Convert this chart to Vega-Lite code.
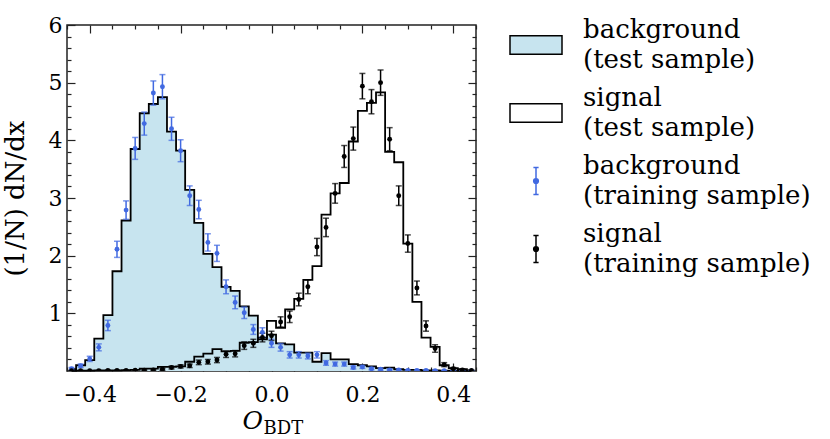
{
  "$schema": "https://vega.github.io/schema/vega-lite/v6.json",
  "width": 409,
  "height": 346,
  "autosize": {"type": "none"},
  "padding": {"left": 67, "top": 25, "right": 354, "bottom": 68},
  "config": {
    "font": "DejaVu Serif",
    "view": {"stroke": "#222", "strokeWidth": 1.5},
    "axis": {"grid": false, "domain": false, "tickColor": "#222", "tickWidth": 1.2, "labelColor": "black", "titleColor": "black", "labelFont": "DejaVu Serif", "titleFont": "DejaVu Serif", "titleFontWeight": "normal"}
  },
  "datasets": {
    "hist": [
      {"x": -0.44, "v": 0.03, "s": "bkg_test"}, {"x": -0.42, "v": 0.10, "s": "bkg_test"}, {"x": -0.40, "v": 0.19, "s": "bkg_test"}, {"x": -0.38, "v": 0.56, "s": "bkg_test"}, {"x": -0.36, "v": 0.97, "s": "bkg_test"},
      {"x": -0.34, "v": 1.73, "s": "bkg_test"}, {"x": -0.32, "v": 2.61, "s": "bkg_test"}, {"x": -0.30, "v": 3.85, "s": "bkg_test"}, {"x": -0.28, "v": 4.47, "s": "bkg_test"}, {"x": -0.26, "v": 4.63, "s": "bkg_test"},
      {"x": -0.24, "v": 4.75, "s": "bkg_test"}, {"x": -0.22, "v": 4.15, "s": "bkg_test"}, {"x": -0.20, "v": 3.82, "s": "bkg_test"}, {"x": -0.18, "v": 3.14, "s": "bkg_test"}, {"x": -0.16, "v": 2.57, "s": "bkg_test"},
      {"x": -0.14, "v": 2.03, "s": "bkg_test"}, {"x": -0.12, "v": 1.80, "s": "bkg_test"}, {"x": -0.10, "v": 1.46, "s": "bkg_test"}, {"x": -0.08, "v": 1.39, "s": "bkg_test"}, {"x": -0.06, "v": 1.12, "s": "bkg_test"},
      {"x": -0.04, "v": 0.96, "s": "bkg_test"}, {"x": -0.02, "v": 0.55, "s": "bkg_test"}, {"x": 0.00, "v": 0.63, "s": "bkg_test"}, {"x": 0.02, "v": 0.48, "s": "bkg_test"}, {"x": 0.04, "v": 0.46, "s": "bkg_test"},
      {"x": 0.06, "v": 0.32, "s": "bkg_test"}, {"x": 0.08, "v": 0.32, "s": "bkg_test"}, {"x": 0.10, "v": 0.16, "s": "bkg_test"}, {"x": 0.12, "v": 0.31, "s": "bkg_test"}, {"x": 0.14, "v": 0.20, "s": "bkg_test"},
      {"x": 0.16, "v": 0.20, "s": "bkg_test"}, {"x": 0.18, "v": 0.12, "s": "bkg_test"}, {"x": 0.20, "v": 0.10, "s": "bkg_test"}, {"x": 0.22, "v": 0.08, "s": "bkg_test"}, {"x": 0.24, "v": 0.05, "s": "bkg_test"},
      {"x": 0.26, "v": 0.06, "s": "bkg_test"}, {"x": 0.28, "v": 0.03, "s": "bkg_test"}, {"x": 0.30, "v": 0.02, "s": "bkg_test"}, {"x": 0.32, "v": 0.02, "s": "bkg_test"}, {"x": 0.34, "v": 0.01, "s": "bkg_test"},
      {"x": 0.36, "v": 0.01, "s": "bkg_test"}, {"x": 0.38, "v": 0.005, "s": "bkg_test"}, {"x": 0.40, "v": 0.005, "s": "bkg_test"}, {"x": 0.42, "v": 0.002, "s": "bkg_test"}, {"x": 0.44, "v": 0.001, "s": "bkg_test"},
      {"x": -0.44, "v": 0.003, "s": "sig_test"}, {"x": -0.42, "v": 0.005, "s": "sig_test"}, {"x": -0.40, "v": 0.008, "s": "sig_test"}, {"x": -0.38, "v": 0.01, "s": "sig_test"}, {"x": -0.36, "v": 0.01, "s": "sig_test"},
      {"x": -0.34, "v": 0.012, "s": "sig_test"}, {"x": -0.32, "v": 0.015, "s": "sig_test"}, {"x": -0.30, "v": 0.02, "s": "sig_test"}, {"x": -0.28, "v": 0.04, "s": "sig_test"}, {"x": -0.26, "v": 0.04, "s": "sig_test"},
      {"x": -0.24, "v": 0.07, "s": "sig_test"}, {"x": -0.22, "v": 0.07, "s": "sig_test"}, {"x": -0.20, "v": 0.08, "s": "sig_test"}, {"x": -0.18, "v": 0.16, "s": "sig_test"}, {"x": -0.16, "v": 0.25, "s": "sig_test"},
      {"x": -0.14, "v": 0.30, "s": "sig_test"}, {"x": -0.12, "v": 0.38, "s": "sig_test"}, {"x": -0.10, "v": 0.34, "s": "sig_test"}, {"x": -0.08, "v": 0.35, "s": "sig_test"}, {"x": -0.06, "v": 0.49, "s": "sig_test"},
      {"x": -0.04, "v": 0.50, "s": "sig_test"}, {"x": -0.02, "v": 0.58, "s": "sig_test"}, {"x": 0.00, "v": 0.87, "s": "sig_test"}, {"x": 0.02, "v": 0.75, "s": "sig_test"}, {"x": 0.04, "v": 1.07, "s": "sig_test"},
      {"x": 0.06, "v": 1.25, "s": "sig_test"}, {"x": 0.08, "v": 1.58, "s": "sig_test"}, {"x": 0.10, "v": 1.82, "s": "sig_test"}, {"x": 0.12, "v": 2.71, "s": "sig_test"}, {"x": 0.14, "v": 3.08, "s": "sig_test"},
      {"x": 0.16, "v": 3.26, "s": "sig_test"}, {"x": 0.18, "v": 3.98, "s": "sig_test"}, {"x": 0.20, "v": 4.51, "s": "sig_test"}, {"x": 0.22, "v": 4.65, "s": "sig_test"}, {"x": 0.24, "v": 4.83, "s": "sig_test"},
      {"x": 0.26, "v": 3.80, "s": "sig_test"}, {"x": 0.28, "v": 3.62, "s": "sig_test"}, {"x": 0.30, "v": 2.21, "s": "sig_test"}, {"x": 0.32, "v": 1.20, "s": "sig_test"}, {"x": 0.34, "v": 0.58, "s": "sig_test"},
      {"x": 0.36, "v": 0.42, "s": "sig_test"}, {"x": 0.38, "v": 0.10, "s": "sig_test"}, {"x": 0.40, "v": 0.05, "s": "sig_test"}, {"x": 0.42, "v": 0.03, "s": "sig_test"}, {"x": 0.44, "v": 0.01, "s": "sig_test"}
    ],
    "pts": [
      {"x": -0.44, "v": 0.04, "e": 0.02, "s": "bkg_train"}, {"x": -0.42, "v": 0.09, "e": 0.03, "s": "bkg_train"}, {"x": -0.40, "v": 0.21, "e": 0.045, "s": "bkg_train"}, {"x": -0.38, "v": 0.41, "e": 0.06, "s": "bkg_train"}, {"x": -0.36, "v": 0.79, "e": 0.09, "s": "bkg_train"},
      {"x": -0.34, "v": 2.11, "e": 0.14, "s": "bkg_train"}, {"x": -0.32, "v": 2.79, "e": 0.16, "s": "bkg_train"}, {"x": -0.30, "v": 3.86, "e": 0.19, "s": "bkg_train"}, {"x": -0.28, "v": 4.29, "e": 0.2, "s": "bkg_train"}, {"x": -0.26, "v": 4.82, "e": 0.21, "s": "bkg_train"},
      {"x": -0.24, "v": 4.93, "e": 0.21, "s": "bkg_train"}, {"x": -0.22, "v": 4.20, "e": 0.2, "s": "bkg_train"}, {"x": -0.20, "v": 3.82, "e": 0.19, "s": "bkg_train"}, {"x": -0.18, "v": 3.04, "e": 0.17, "s": "bkg_train"}, {"x": -0.16, "v": 2.80, "e": 0.16, "s": "bkg_train"},
      {"x": -0.14, "v": 2.23, "e": 0.15, "s": "bkg_train"}, {"x": -0.12, "v": 2.04, "e": 0.14, "s": "bkg_train"}, {"x": -0.10, "v": 1.46, "e": 0.12, "s": "bkg_train"}, {"x": -0.08, "v": 1.19, "e": 0.11, "s": "bkg_train"}, {"x": -0.06, "v": 1.01, "e": 0.1, "s": "bkg_train"},
      {"x": -0.04, "v": 0.72, "e": 0.085, "s": "bkg_train"}, {"x": -0.02, "v": 0.67, "e": 0.08, "s": "bkg_train"}, {"x": 0.00, "v": 0.48, "e": 0.07, "s": "bkg_train"}, {"x": 0.02, "v": 0.41, "e": 0.065, "s": "bkg_train"}, {"x": 0.04, "v": 0.28, "e": 0.055, "s": "bkg_train"},
      {"x": 0.06, "v": 0.28, "e": 0.055, "s": "bkg_train"}, {"x": 0.08, "v": 0.26, "e": 0.05, "s": "bkg_train"}, {"x": 0.10, "v": 0.28, "e": 0.055, "s": "bkg_train"}, {"x": 0.12, "v": 0.14, "e": 0.04, "s": "bkg_train"}, {"x": 0.14, "v": 0.12, "e": 0.035, "s": "bkg_train"},
      {"x": 0.16, "v": 0.12, "e": 0.035, "s": "bkg_train"}, {"x": 0.18, "v": 0.06, "e": 0.025, "s": "bkg_train"}, {"x": 0.20, "v": 0.07, "e": 0.025, "s": "bkg_train"}, {"x": 0.22, "v": 0.04, "e": 0.02, "s": "bkg_train"}, {"x": 0.24, "v": 0.03, "e": 0.017, "s": "bkg_train"},
      {"x": 0.26, "v": 0.02, "e": 0.014, "s": "bkg_train"}, {"x": 0.28, "v": 0.02, "e": 0.014, "s": "bkg_train"}, {"x": 0.30, "v": 0.01, "e": 0.01, "s": "bkg_train"}, {"x": 0.32, "v": 0.01, "e": 0.01, "s": "bkg_train"}, {"x": 0.34, "v": 0.01, "e": 0.01, "s": "bkg_train"},
      {"x": 0.36, "v": 0.005, "e": 0.005, "s": "bkg_train"}, {"x": 0.38, "v": 0.005, "e": 0.005, "s": "bkg_train"}, {"x": 0.40, "v": 0.003, "e": 0.003, "s": "bkg_train"}, {"x": 0.42, "v": 0.002, "e": 0.002, "s": "bkg_train"}, {"x": 0.44, "v": 0.001, "e": 0.001, "s": "bkg_train"},
      {"x": -0.44, "v": 0.005, "e": 0.005, "s": "sig_train"}, {"x": -0.42, "v": 0.005, "e": 0.005, "s": "sig_train"}, {"x": -0.40, "v": 0.005, "e": 0.005, "s": "sig_train"}, {"x": -0.38, "v": 0.005, "e": 0.005, "s": "sig_train"}, {"x": -0.36, "v": 0.008, "e": 0.008, "s": "sig_train"},
      {"x": -0.34, "v": 0.008, "e": 0.008, "s": "sig_train"}, {"x": -0.32, "v": 0.01, "e": 0.01, "s": "sig_train"}, {"x": -0.30, "v": 0.012, "e": 0.01, "s": "sig_train"}, {"x": -0.28, "v": 0.015, "e": 0.012, "s": "sig_train"}, {"x": -0.26, "v": 0.02, "e": 0.014, "s": "sig_train"},
      {"x": -0.24, "v": 0.03, "e": 0.017, "s": "sig_train"}, {"x": -0.22, "v": 0.06, "e": 0.025, "s": "sig_train"}, {"x": -0.20, "v": 0.08, "e": 0.028, "s": "sig_train"}, {"x": -0.18, "v": 0.09, "e": 0.03, "s": "sig_train"}, {"x": -0.16, "v": 0.15, "e": 0.04, "s": "sig_train"},
      {"x": -0.14, "v": 0.16, "e": 0.04, "s": "sig_train"}, {"x": -0.12, "v": 0.19, "e": 0.045, "s": "sig_train"}, {"x": -0.10, "v": 0.29, "e": 0.055, "s": "sig_train"}, {"x": -0.08, "v": 0.30, "e": 0.055, "s": "sig_train"}, {"x": -0.06, "v": 0.44, "e": 0.065, "s": "sig_train"},
      {"x": -0.04, "v": 0.48, "e": 0.07, "s": "sig_train"}, {"x": -0.02, "v": 0.58, "e": 0.075, "s": "sig_train"}, {"x": 0.00, "v": 0.61, "e": 0.08, "s": "sig_train"}, {"x": 0.02, "v": 0.85, "e": 0.09, "s": "sig_train"}, {"x": 0.04, "v": 0.94, "e": 0.1, "s": "sig_train"},
      {"x": 0.06, "v": 1.24, "e": 0.11, "s": "sig_train"}, {"x": 0.08, "v": 1.46, "e": 0.12, "s": "sig_train"}, {"x": 0.10, "v": 2.15, "e": 0.15, "s": "sig_train"}, {"x": 0.12, "v": 2.49, "e": 0.16, "s": "sig_train"}, {"x": 0.14, "v": 3.08, "e": 0.17, "s": "sig_train"},
      {"x": 0.16, "v": 3.72, "e": 0.19, "s": "sig_train"}, {"x": 0.18, "v": 4.03, "e": 0.2, "s": "sig_train"}, {"x": 0.20, "v": 4.94, "e": 0.22, "s": "sig_train"}, {"x": 0.22, "v": 4.67, "e": 0.21, "s": "sig_train"}, {"x": 0.24, "v": 5.00, "e": 0.22, "s": "sig_train"},
      {"x": 0.26, "v": 4.02, "e": 0.2, "s": "sig_train"}, {"x": 0.28, "v": 3.04, "e": 0.17, "s": "sig_train"}, {"x": 0.30, "v": 2.21, "e": 0.15, "s": "sig_train"}, {"x": 0.32, "v": 1.44, "e": 0.12, "s": "sig_train"}, {"x": 0.34, "v": 0.78, "e": 0.09, "s": "sig_train"},
      {"x": 0.36, "v": 0.39, "e": 0.065, "s": "sig_train"}, {"x": 0.38, "v": 0.11, "e": 0.035, "s": "sig_train"}, {"x": 0.40, "v": 0.04, "e": 0.02, "s": "sig_train"}, {"x": 0.42, "v": 0.02, "e": 0.014, "s": "sig_train"}, {"x": 0.44, "v": 0.01, "e": 0.01, "s": "sig_train"}
    ]
  },
  "resolve": {"axis": {"x": "independent", "y": "independent"}},
  "layer": [
    {
      "data": {"name": "hist"},
      "transform": [{"filter": "datum.s === 'bkg_test'"}],
      "mark": {"type": "area", "interpolate": "step"},
      "encoding": {
        "x": {"field": "x", "type": "quantitative", "scale": {"domain": [-0.45, 0.45], "nice": false, "zero": false},
          "axis": {"orient": "bottom", "values": [-0.4, -0.2, 0, 0.2, 0.4], "format": ".1f", "tickSize": -8, "labelFontSize": 22, "labelPadding": 21,
            "title": "O", "titleFontSize": 25, "titleFontStyle": "italic", "titleAlign": "left", "titleAnchor": "start", "titleBaseline": "alphabetic", "titleX": 175, "titleY": 57}},
        "y": {"field": "v", "type": "quantitative", "scale": {"domain": [0, 6], "nice": false},
          "axis": {"orient": "left", "values": [1, 2, 3, 4, 5, 6], "format": "d", "tickSize": -8, "labelFontSize": 22, "labelPadding": 13,
            "title": "(1/N) dN/dx", "titleFontSize": 26, "titlePadding": 20}},
        "fill": {"field": "s", "type": "nominal",
          "scale": {"domain": ["bkg_test", "sig_test", "bkg_train", "sig_train"], "range": ["#c7e4ef", "white", "royalblue", "black"]},
          "legend": {"title": null, "orient": "none", "legendX": 442, "legendY": -7, "padding": 0, "symbolSize": 2704, "symbolStrokeWidth": 1.5,
            "labelFontSize": 26, "labelFont": "DejaVu Serif", "labelColor": "black", "labelLimit": 400, "labelOffset": 20, "rowPadding": 12,
            "labelExpr": "datum.value === 'bkg_test' ? ['background', '(test sample)'] : datum.value === 'sig_test' ? ['signal', '(test sample)'] : datum.value === 'bkg_train' ? ['background', '(training sample)'] : ['signal', '(training sample)']",
            "encode": {
              "symbols": {"update": {
                "shape": {"signal": "(datum.value === 'bkg_test' || datum.value === 'sig_test') ? 'M-1,-0.36H1V0.36H-1Z' : 'M0,-0.52V0.52M-0.1,-0.52H0.1M-0.1,0.52H0.1M0.09,0A0.09,0.09,0,1,1,-0.09,0A0.09,0.09,0,1,1,0.09,0Z'"},
                "strokeWidth": {"value": 1.5},
                "size": {"value": 2704},
                "opacity": {"value": 1},
                "fillOpacity": {"value": 1}
              }},
              "labels": {"update": {"lineHeight": {"value": 30}, "dy": {"value": -15}}}
            }}}
      }
    },
    {
      "data": {"name": "hist"},
      "mark": {"type": "line", "interpolate": "step", "strokeWidth": 1.8},
      "encoding": {
        "x": {"field": "x", "type": "quantitative", "scale": {"domain": [-0.45, 0.45], "nice": false, "zero": false},
          "axis": {"orient": "bottom", "values": [-0.45, -0.35, -0.3, -0.25, -0.15, -0.1, -0.05, 0.05, 0.1, 0.15, 0.25, 0.3, 0.35, 0.45], "labels": false, "tickSize": -4,
            "title": "BDT", "titleFontSize": 18, "titleAlign": "left", "titleAnchor": "start", "titleBaseline": "alphabetic", "titleX": 196, "titleY": 62}},
        "y": {"field": "v", "type": "quantitative", "scale": {"domain": [0, 6], "nice": false},
          "axis": {"orient": "left", "values": [0.2, 0.4, 0.6, 0.8, 1.2, 1.4, 1.6, 1.8, 2.2, 2.4, 2.6, 2.8, 3.2, 3.4, 3.6, 3.8, 4.2, 4.4, 4.6, 4.8, 5.2, 5.4, 5.6, 5.8], "labels": false, "tickSize": -4, "title": null}},
        "stroke": {"field": "s", "type": "nominal",
          "scale": {"domain": ["bkg_test", "sig_test", "bkg_train", "sig_train"], "range": ["black", "black", "royalblue", "black"]},
          "legend": {"title": null}}
      }
    },
    {
      "data": {"name": "pts"},
      "mark": {"type": "errorbar", "ticks": {"size": 6}, "thickness": 1.5, "clip": true},
      "encoding": {
        "x": {"field": "x", "type": "quantitative", "scale": {"domain": [-0.45, 0.45], "nice": false, "zero": false},
          "axis": {"orient": "top", "values": [-0.45, -0.35, -0.3, -0.25, -0.15, -0.1, -0.05, 0.05, 0.1, 0.15, 0.25, 0.3, 0.35, 0.45], "labels": false, "tickSize": -4, "title": null}},
        "y": {"field": "v", "type": "quantitative", "scale": {"domain": [0, 6], "nice": false},
          "axis": {"orient": "right", "values": [0.2, 0.4, 0.6, 0.8, 1.2, 1.4, 1.6, 1.8, 2.2, 2.4, 2.6, 2.8, 3.2, 3.4, 3.6, 3.8, 4.2, 4.4, 4.6, 4.8, 5.2, 5.4, 5.6, 5.8], "labels": false, "tickSize": -4, "title": null}},
        "yError": {"field": "e"},
        "color": {"field": "s", "type": "nominal", "scale": {"domain": ["bkg_train", "sig_train"], "range": ["royalblue", "black"]}, "legend": null}
      }
    },
    {
      "data": {"name": "pts"},
      "mark": {"type": "point", "filled": true, "size": 24, "opacity": 1, "strokeWidth": 0, "clip": true},
      "encoding": {
        "x": {"field": "x", "type": "quantitative", "scale": {"domain": [-0.45, 0.45], "nice": false, "zero": false},
          "axis": {"orient": "top", "values": [-0.4, -0.2, 0, 0.2, 0.4], "labels": false, "tickSize": -8, "title": null}},
        "y": {"field": "v", "type": "quantitative", "scale": {"domain": [0, 6], "nice": false},
          "axis": {"orient": "right", "values": [1, 2, 3, 4, 5], "labels": false, "tickSize": -8, "title": null}},
        "fill": {"field": "s", "type": "nominal"}
      }
    }
  ]
}
